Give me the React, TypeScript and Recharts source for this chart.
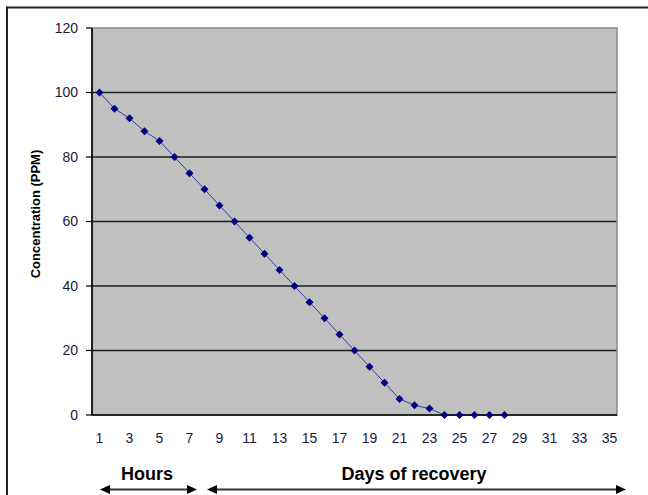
import React from 'react';
import { LineChart, Line, XAxis, YAxis, CartesianGrid, ReferenceArea } from 'recharts';

// Measured concentration per sampling step (steps 1-7 hourly, then daily)
const steps = [1, 2, 3, 4, 5, 6, 7, 8, 9, 10, 11, 12, 13, 14, 15, 16, 17, 18, 19, 20, 21, 22, 23, 24, 25, 26, 27, 28];
const concentration = [100, 95, 92, 88, 85, 80, 75, 70, 65, 60, 55, 50, 45, 40, 35, 30, 25, 20, 15, 10, 5, 3, 2, 0, 0, 0, 0, 0];

// Axis ticks
const xLabelTicks = [1, 3, 5, 7, 9, 11, 13, 15, 17, 19, 21, 23, 25, 27, 29, 31, 33, 35];
const cellEdges = [0.5, 1.5, 2.5, 3.5, 4.5, 5.5, 6.5, 7.5, 8.5, 9.5, 10.5, 11.5, 12.5, 13.5, 14.5, 15.5, 16.5, 17.5, 18.5, 19.5, 20.5, 21.5, 22.5, 23.5, 24.5, 25.5, 26.5, 27.5, 28.5, 29.5, 30.5, 31.5, 32.5, 33.5, 34.5, 35.5];
const yTicks = [0, 20, 40, 60, 80, 100, 120];
const gridValues = [20, 40, 60, 80, 100];
const xDomain = [0.5, 35.5];

const data = steps.map((s, i) => ({ step: s, ppm: concentration[i] }));

const FONT = '"Liberation Sans", Arial, sans-serif';

const Diamond = (props: any) => {
  const { cx, cy } = props;
  if (cx == null || cy == null) return null;
  return (
    <path
      d={`M${cx},${cy - 4}L${cx + 4},${cy}L${cx},${cy + 4}L${cx - 4},${cy}Z`}
      fill="#000080"
      stroke="none"
    />
  );
};

export default function App() {
  return (
    <div style={{ position: 'absolute', left: 0, top: 0, width: 648, height: 495, background: '#fff', fontFamily: FONT }}>
      <LineChart
        width={648}
        height={495}
        data={data}
        margin={{ top: 28, right: 31, bottom: 50, left: 0 }}
      >
        <CartesianGrid
          xAxisId="main"
          fill="#c0c0c0"
          vertical={false}
          horizontalValues={gridValues}
          stroke="#000"
          strokeWidth={1.4}
          strokeOpacity={0.85}
        />
        <ReferenceArea
          xAxisId="main"
          x1={0.5}
          x2={35.5}
          y1={0}
          y2={120}
          fill="none"
          stroke="#8a8a8a"
          strokeWidth={1.5}
          ifOverflow="visible"
        />
        <XAxis
          xAxisId="main"
          type="number"
          dataKey="step"
          domain={xDomain}
          allowDataOverflow
          ticks={xLabelTicks}
          interval={0}
          tickLine={false}
          tickSize={0}
          tickMargin={18}
          axisLine={{ stroke: '#000', strokeWidth: 1.6 }}
          tick={{ fontSize: 14, fill: '#1a1a40', fontFamily: FONT }}
          height={30}
        />
        <XAxis
          xAxisId="cells"
          type="number"
          domain={xDomain}
          allowDataOverflow
          ticks={cellEdges}
          interval={0}
          tick={false}
          tickSize={5}
          tickLine={{ stroke: '#000', strokeWidth: 1.2 }}
          axisLine={false}
          height={0}
        />
        <YAxis
          type="number"
          domain={[0, 120]}
          ticks={yTicks}
          interval={0}
          width={92}
          tickSize={6}
          tickMargin={8}
          axisLine={{ stroke: '#000', strokeWidth: 1.6 }}
          tickLine={{ stroke: '#000', strokeWidth: 1.2 }}
          tick={{ fontSize: 14, fill: '#1a1a40', fontFamily: FONT }}
        />
        <Line
          xAxisId="main"
          type="linear"
          dataKey="ppm"
          stroke="#3a3aa6"
          strokeWidth={1}
          dot={<Diamond />}
          activeDot={false}
          isAnimationActive={false}
        />
      </LineChart>
      <svg
        width={648}
        height={495}
        style={{ position: 'absolute', left: 0, top: 0, pointerEvents: 'none' }}
      >
        <line x1={6} y1={7.5} x2={648} y2={7.5} stroke="#222" strokeWidth={2} />
        <line x1={7} y1={6.5} x2={7} y2={495} stroke="#222" strokeWidth={2} />
        <text
          x={35}
          y={214}
          transform="rotate(-90 35 214)"
          textAnchor="middle"
          dominantBaseline="central"
          fontFamily={FONT}
          fontSize={13}
          fontWeight="bold"
          fill="#000"
        >
          Concentration (PPM)
        </text>
        <text x={147} y={480} textAnchor="middle" fontFamily={FONT} fontSize={18} fontWeight="bold" fill="#000">
          Hours
        </text>
        <text x={414} y={480} textAnchor="middle" fontFamily={FONT} fontSize={18} fontWeight="bold" fill="#000">
          Days of recovery
        </text>
        <line x1={108} y1={489.5} x2={189} y2={489.5} stroke="#333" strokeWidth={2} />
        <path d="M100,489.5L110,485L110,494Z" fill="#000" />
        <path d="M197,489.5L187,485L187,494Z" fill="#000" />
        <line x1={216} y1={489.5} x2={617} y2={489.5} stroke="#333" strokeWidth={2} />
        <path d="M207,489.5L217,485L217,494Z" fill="#000" />
        <path d="M626,489.5L616,485L616,494Z" fill="#000" />
      </svg>
    </div>
  );
}
